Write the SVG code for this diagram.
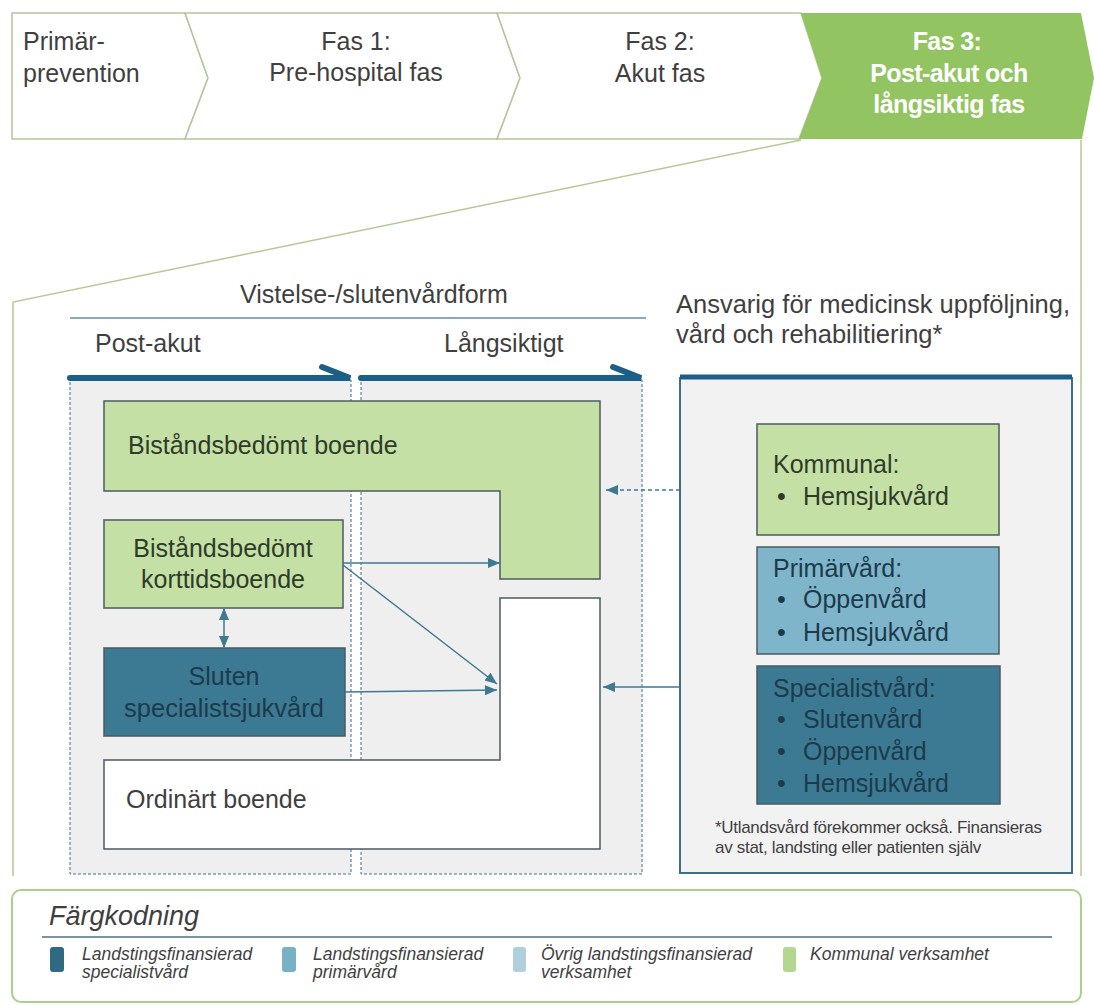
<svg xmlns="http://www.w3.org/2000/svg" width="1094" height="1005" viewBox="0 0 1094 1005">
<style>
.t{font-family:"Liberation Sans",Arial,sans-serif;font-size:25px;fill:#3f3f3f}
.tb{font-family:"Liberation Sans",Arial,sans-serif;font-size:25px;font-weight:bold;fill:#ffffff;letter-spacing:-0.6px}
.g{fill:#2f3b2a}
.d{fill:#1d3a4c}
.sm{font-family:"Liberation Sans",Arial,sans-serif;font-size:17px;fill:#3f3f3f;letter-spacing:-0.3px}
.lg{font-family:"Liberation Sans",Arial,sans-serif;font-size:17.5px;font-style:italic;fill:#3f3f3f}
.chev{fill:#ffffff;stroke:#b3c69c;stroke-width:1.5}
.col{fill:#efeff0;stroke:#3d6f8c;stroke-width:1;stroke-dasharray:3 2}
.box{stroke:#4d5b60;stroke-width:1.5}
.frame{fill:none;stroke:#b5c995;stroke-width:1.5}
.bar{fill:none;stroke:#1b5e87;stroke-width:6;stroke-linecap:round}
.con{fill:none;stroke:#3f7891;stroke-width:1.5}
</style>
<defs>
<marker id="ah" markerUnits="userSpaceOnUse" markerWidth="13" markerHeight="11" refX="12" refY="5" orient="auto-start-reverse">
<path d="M0,0 L12,5 L0,10 z" fill="#3f7891"/>
</marker>
</defs>
<rect width="1094" height="1005" fill="#ffffff"/>

<!-- top phase bar -->
<g id="phase-primar">
<polygon class="chev" points="12,13 185,13 208,78 185,139 12,139"/>
<text class="t" x="23" y="50">Primär-</text>
<text class="t" x="23" y="82">prevention</text>
</g>
<g id="phase-fas1">
<polygon class="chev" points="185,13 497,13 520,78 497,139 185,139 208,78"/>
<text class="t" x="356" y="50" text-anchor="middle">Fas 1:</text>
<text class="t" x="356" y="81" text-anchor="middle">Pre-hospital fas</text>
</g>
<g id="phase-fas2">
<polygon class="chev" points="497,13 801,13 822,78 799,139 497,139 520,78"/>
<text class="t" x="660" y="50" text-anchor="middle">Fas 2:</text>
<text class="t" x="660" y="82" text-anchor="middle">Akut fas</text>
</g>
<g id="phase-fas3">
<polygon points="801,13 1081,13 1094,78 1082,139 799,139 822,78" fill="#93c462"/>
<text class="tb" x="947" y="50" text-anchor="middle">Fas 3:</text>
<text class="tb" x="949" y="82" text-anchor="middle">Post-akut och</text>
<text class="tb" x="949" y="113" text-anchor="middle">långsiktig fas</text>
</g>

<!-- zoom frame -->
<g id="frame">
<polyline class="frame" points="801,140 13,302 13,876"/>
<line class="frame" x1="1081" y1="140" x2="1081" y2="876"/>
</g>

<!-- headings -->
<g id="headings">
<text class="t" x="240" y="303">Vistelse-/slutenvårdform</text>
<line x1="70" y1="318" x2="646" y2="318" stroke="#5f8ea6" stroke-width="1.5"/>
<text class="t" x="95" y="352">Post-akut</text>
<text class="t" x="444" y="352">Långsiktigt</text>
<text class="t" x="676" y="313" style="font-size:25.5px">Ansvarig för medicinsk uppföljning,</text>
<text class="t" x="676" y="343" style="font-size:25.5px">vård och rehabilitiering*</text>
</g>

<!-- columns -->
<g id="col-postakut">
<rect class="col" x="70" y="380" width="281" height="494"/>
<path class="bar" d="M70,378 H350 L322,367"/>
</g>
<g id="col-langsiktigt">
<rect class="col" x="361" y="380" width="281" height="494"/>
<path class="bar" d="M361,378 H641 L613,367"/>
</g>

<!-- right panel -->
<g id="panel-ansvarig">
<rect x="680" y="378" width="392" height="495" fill="#f2f2f3" stroke="#3d6f89" stroke-width="2"/>
<line x1="680" y1="377" x2="1072" y2="377" stroke="#1b5e87" stroke-width="5"/>
</g>

<!-- nodes -->
<g id="node-bistand-boende">
<polygon class="box" points="104,401 600,401 600,579 500,579 500,491 104,491" fill="#c5e0a5"/>
<text class="t g" x="128" y="454">Biståndsbedömt boende</text>
</g>
<g id="node-korttids">
<rect class="box" x="104" y="520" width="239" height="88" fill="#c5e0a5"/>
<text class="t g" x="223" y="557" text-anchor="middle">Biståndsbedömt</text>
<text class="t g" x="223" y="588" text-anchor="middle">korttidsboende</text>
</g>
<g id="node-sluten">
<rect class="box" x="104" y="648" width="241" height="88" fill="#3b7a92"/>
<text class="t d" x="224" y="685" text-anchor="middle">Sluten</text>
<text class="t d" x="224" y="717" text-anchor="middle" style="font-size:25.5px">specialistsjukvård</text>
</g>
<g id="node-ordinart">
<polygon class="box" points="500,598 600,598 600,849 104,849 104,760 500,760" fill="#ffffff"/>
<text class="t" x="126" y="808">Ordinärt boende</text>
</g>
<g id="node-kommunal">
<rect class="box" x="757" y="424" width="242" height="111" fill="#c5e0a5"/>
<text class="t g" x="773" y="473">Kommunal:</text>
<text class="t g" x="777" y="505">•</text>
<text class="t g" x="803" y="505">Hemsjukvård</text>
</g>
<g id="node-primarvard">
<rect class="box" x="757" y="547" width="242" height="107" fill="#7fb5ca"/>
<text class="t d" x="773" y="577">Primärvård:</text>
<text class="t d" x="777" y="608">•</text>
<text class="t d" x="803" y="608">Öppenvård</text>
<text class="t d" x="777" y="641">•</text>
<text class="t d" x="803" y="641">Hemsjukvård</text>
</g>
<g id="node-specialistvard">
<rect class="box" x="757" y="666" width="243" height="138" fill="#3b7a92"/>
<text class="t d" x="773" y="697">Specialistvård:</text>
<text class="t d" x="777" y="728">•</text>
<text class="t d" x="803" y="728">Slutenvård</text>
<text class="t d" x="777" y="760">•</text>
<text class="t d" x="803" y="760">Öppenvård</text>
<text class="t d" x="777" y="792">•</text>
<text class="t d" x="803" y="792">Hemsjukvård</text>
</g>
<g id="footnote">
<text class="sm" x="715" y="833">*Utlandsvård förekommer också. Finansieras</text>
<text class="sm" x="715" y="853">av stat, landsting eller patienten själv</text>
</g>

<!-- connectors -->
<g id="connectors">
<line class="con" x1="343" y1="563" x2="500" y2="563" marker-end="url(#ah)"/>
<line class="con" x1="343" y1="565" x2="497" y2="684" marker-end="url(#ah)"/>
<line class="con" x1="345" y1="692" x2="497" y2="690" marker-end="url(#ah)"/>
<line class="con" x1="224" y1="608" x2="224" y2="648" marker-start="url(#ah)" marker-end="url(#ah)"/>
<line class="con" x1="680" y1="490" x2="606" y2="490" stroke-dasharray="4 3" marker-end="url(#ah)"/>
<line class="con" x1="680" y1="687" x2="603" y2="687" marker-end="url(#ah)"/>
</g>

<!-- legend -->
<g id="legend">
<rect x="12" y="890" width="1069" height="112" rx="9" fill="#ffffff" stroke="#a9d08c" stroke-width="2"/>
<text class="lg" x="49" y="925" style="font-size:27px">Färgkodning</text>
<line x1="42" y1="937" x2="1052" y2="937" stroke="#4f6f80" stroke-width="1.5"/>
<rect x="50" y="947" width="14" height="25" rx="3" fill="#2f6a80"/>
<text class="lg" x="82" y="960">Landstingsfinansierad</text>
<text class="lg" x="82" y="978">specialistvård</text>
<rect x="282" y="947" width="14" height="25" rx="3" fill="#78b0c6"/>
<text class="lg" x="313" y="960">Landstingsfinansierad</text>
<text class="lg" x="313" y="978">primärvård</text>
<rect x="513" y="947" width="13" height="25" rx="3" fill="#b0cfdc"/>
<text class="lg" x="541" y="960">Övrig landstingsfinansierad</text>
<text class="lg" x="541" y="978">verksamhet</text>
<rect x="783" y="947" width="13" height="25" rx="3" fill="#b4d78f"/>
<text class="lg" x="810" y="960">Kommunal verksamhet</text>
</g>
</svg>
